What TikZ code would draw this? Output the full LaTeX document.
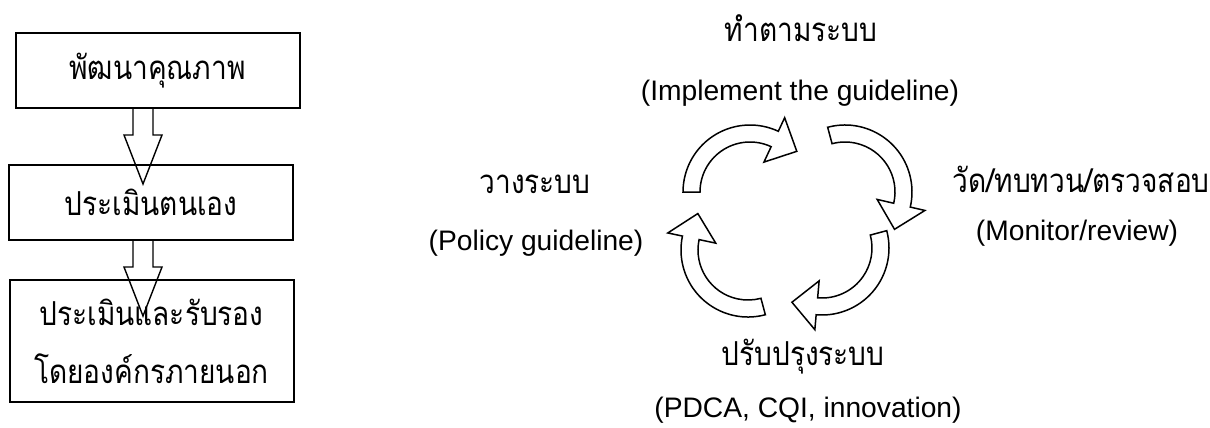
\documentclass[tikz,border=0pt]{standalone}
\usepackage{fontspec}
\setmainfont{Liberation Sans}
\newfontfamily\thaifont[Script=Thai, FakeStretch=0.85]{Loma}
\usepackage{tikz}
\usetikzlibrary{positioning,calc}

% one curved arrow of the cycle: centre, start angle, end of shaft
\newcommand{\cyclearrow}[3]{%
  \begin{scope}[shift={#1}, yscale=-1]
    \draw [cyclearr] (#2:67) arc [start angle=#2, end angle=#3, radius=67]
      -- (#3:82) -- ({#3-24}:62) -- (#3:33) -- (#3:50)
      arc [start angle=#3, end angle=#2, radius=50] -- cycle;
  \end{scope}}

\begin{document}
\begin{tikzpicture}[
        x=0.5pt, y=-0.5pt,
        box/.style={rectangle, draw=black, line width=1pt, minimum width=142pt, font=\thaifont\fontsize{16.5}{29}\selectfont, align=center, inner sep=0pt},
        blockarr/.style={draw=black, line width=0.7pt, line join=miter},
        cyclearr/.style={draw=black, fill=white, line width=0.75pt, line join=miter},
        thlabel/.style={font=\thaifont\fontsize{16.5}{18}\selectfont, anchor=base, inner sep=0pt},
        enlabel/.style={font=\fontsize{14.1}{16}\selectfont, anchor=base, inner sep=0pt},
      ]
      \useasboundingbox (0,0) rectangle (1210,428);
      \coordinate (colx) at (143,0);
      % left column
      \node [box, minimum height=37.5pt] (develop) at (157.5,70.5) {พัฒนาคุณภาพ};
      \node [box, minimum height=37.5pt] (selfassess) at (151,202.5) {ประเมินตนเอง};
      \node [box, minimum height=61pt] (accredit) at (151.5,341) {ประเมินและรับรอง\\โดยองค์กรภายนอก};
      \draw [blockarr] (develop.south -| colx) ++(-10,0) -- ++(0,26) -- ++(-9,0) -- ++(19,49) -- ++(19,-49) -- ++(-9,0) -- ++(0,-26);
      \draw [blockarr] (selfassess.south -| colx) ++(-10,0) -- ++(0,26) -- ++(-9,0) -- ++(19,49) -- ++(19,-49) -- ++(-9,0) -- ++(0,-26);
      % cycle
      \cyclearrow{(750,192)}{180}{65}
      \cyclearrow{(845,192)}{105}{-13}
      \cyclearrow{(822,248)}{15}{-95}
      \cyclearrow{(748,250)}{-75}{-192}
      \node [thlabel] (doth) at (801,41) {ทำตามระบบ};
      \node [enlabel] (doen) at (800,100) {(Implement the guideline)};
      \node [thlabel] (planth) at (535,193) {วางระบบ};
      \node [enlabel] (planen) at (536,250) {(Policy guideline)};
      \node [thlabel] (checkth) at (1081,192) {วัด/ทบทวน/ตรวจสอบ};
      \node [enlabel] (checken) at (1077,240) {(Monitor/review)};
      \node [thlabel] (actth) at (803,365) {ปรับปรุงระบบ};
      \node [enlabel] (acten) at (808,417) {(PDCA, CQI, innovation)};
    \end{tikzpicture}
\end{document}
